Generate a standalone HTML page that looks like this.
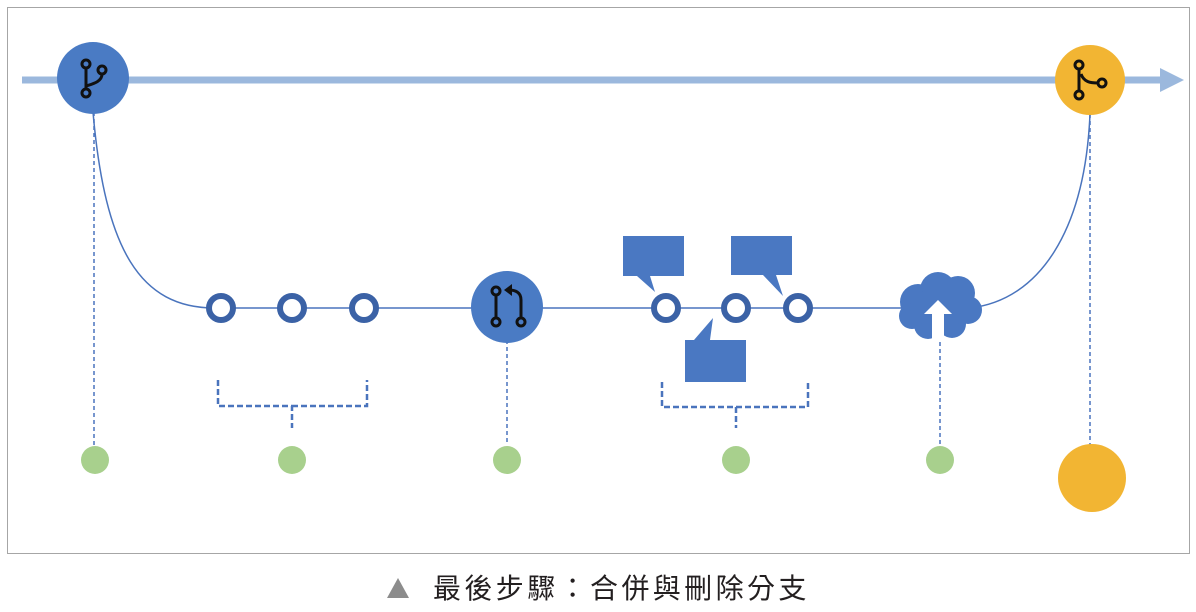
<!DOCTYPE html>
<html><head><meta charset="utf-8"><style>
html,body{margin:0;padding:0;background:#fff;}
body{width:1196px;height:607px;overflow:hidden;}
</style></head><body>
<svg width="1196" height="607" viewBox="0 0 1196 607" xmlns="http://www.w3.org/2000/svg">
<rect x="7.5" y="7.5" width="1182" height="546" fill="#fff" stroke="#a6a6a6" stroke-width="1"/>
<line x1="22" y1="80" x2="1162" y2="80" stroke="#9bb8dd" stroke-width="7"/>
<polygon points="1160,68 1184,80 1160,92" fill="#9bb8dd"/>
<g stroke="#4a74bd" stroke-width="1.5" stroke-dasharray="4,3" fill="none">
<line x1="94" y1="112" x2="94" y2="445"/>
<line x1="507" y1="340" x2="507" y2="445"/>
<line x1="940" y1="335" x2="940" y2="445"/>
<line x1="1090" y1="114" x2="1090" y2="445"/>
<path d="M218,380 V406 H292 V428 M292,406 H367 V380" stroke-width="2.5" stroke-dasharray="6,3"/>
<path d="M662,382 V407 H736 V428 M736,407 H808 V382" stroke-width="2.5" stroke-dasharray="6,3"/>
</g>
<path d="M93,112 C105,250 140,308 215,308 H905" stroke="#4a74bd" stroke-width="1.5" fill="none"/>
<path d="M970,308 C1040,300 1085,230 1090,114" stroke="#4a74bd" stroke-width="1.5" fill="none"/>
<g fill="#4a78c2">
<path d="M623,236 H684 V276 H650 L655,292 L637,276 H623 Z"/>
<path d="M731,236 H792 V275 H776 L783,296 L763,275 H731 Z"/>
<path d="M685,340 H746 V382 H685 V340 H694 L713,318 L710,340 Z"/>
</g>
<g fill="#fff" stroke="#3b62a6" stroke-width="6">
<circle cx="221" cy="308" r="12"/>
<circle cx="292" cy="308" r="12"/>
<circle cx="364" cy="308" r="12"/>
<circle cx="666" cy="308" r="12"/>
<circle cx="736" cy="308" r="12"/>
<circle cx="798" cy="308" r="12"/>
</g>
<g fill="#4a78c2">
<circle cx="918" cy="302" r="18"/><circle cx="938" cy="290" r="18"/><circle cx="958" cy="293" r="17"/>
<circle cx="968" cy="310" r="14"/><circle cx="952" cy="324" r="14"/><circle cx="928" cy="325" r="14"/>
<circle cx="912" cy="316" r="13"/><ellipse cx="940" cy="308" rx="30" ry="20"/>
</g>
<polygon points="938,300 952,314 944,314 944,340 932,340 932,314 924,314" fill="#fff"/>
<circle cx="93" cy="78" r="36" fill="#4a7bc4"/>
<g stroke="#111" stroke-width="3" fill="none">
<circle cx="86" cy="64" r="4"/><circle cx="102" cy="70" r="4"/><circle cx="86" cy="93" r="4"/>
<path d="M86,68 V89 M102,74 C102,82 92,84 86,86"/>
</g>
<circle cx="507" cy="307" r="36" fill="#4a7bc4"/>
<g stroke="#111" stroke-width="3" fill="none">
<circle cx="496" cy="291" r="4"/><circle cx="496" cy="322" r="4"/><circle cx="521" cy="322" r="4"/>
<path d="M496,295 V318 M521,318 V300 C521,292 515,290 509,290"/>
</g>
<polygon points="504,290 512,284 512,296" fill="#111"/>
<circle cx="1090" cy="80" r="35" fill="#f2b533"/>
<g stroke="#111" stroke-width="3" fill="none">
<circle cx="1079" cy="65" r="4"/><circle cx="1079" cy="95" r="4"/><circle cx="1102" cy="83" r="4"/>
<path d="M1079,69 V91 M1081,74 C1084,82 1090,83 1098,83"/>
</g>
<g fill="#a8d08d">
<circle cx="95" cy="460" r="14"/><circle cx="292" cy="460" r="14"/><circle cx="507" cy="460" r="14"/>
<circle cx="736" cy="460" r="14"/><circle cx="940" cy="460" r="14"/>
</g>
<circle cx="1092" cy="478" r="34" fill="#f2b533"/>
<polygon points="387,598 409,598 398,578" fill="#8c8c8c"/>
<text x="433" y="598" font-family="'Liberation Sans','Noto Sans CJK TC',sans-serif" font-size="28" fill="#231f20" letter-spacing="3.4">最後步驟：合併與刪除分支</text>
</svg>
</body></html>
